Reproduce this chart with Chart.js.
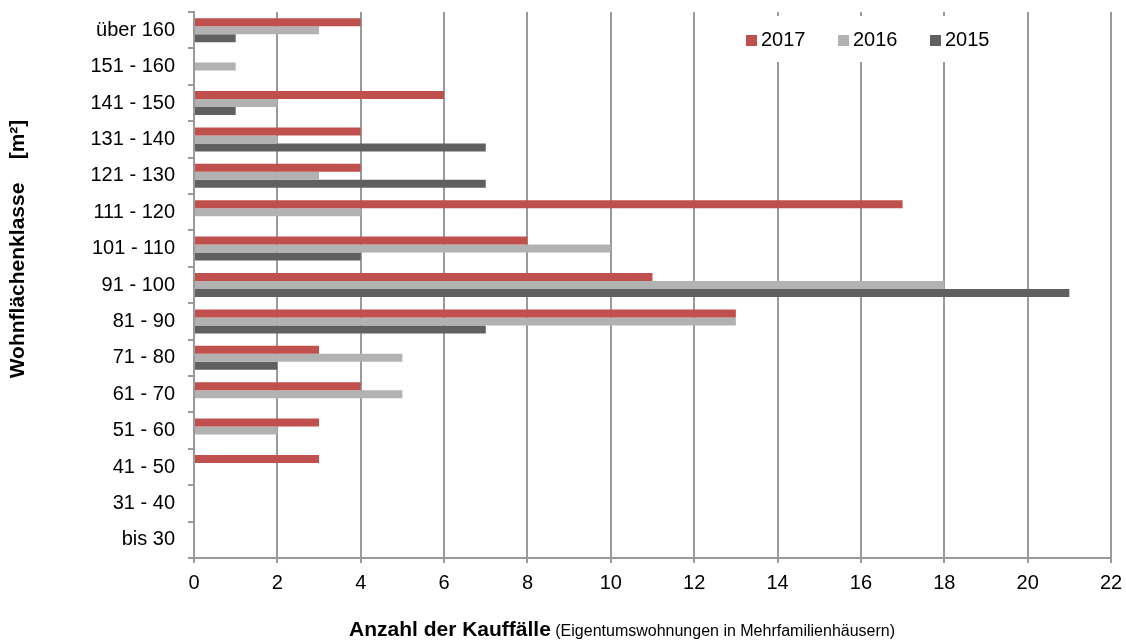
<!DOCTYPE html>
<html lang="de">
<head>
<meta charset="utf-8">
<title>Kauffälle nach Wohnflächenklasse</title>
<script src="https://cdn.jsdelivr.net/npm/chart.js@4/dist/chart.umd.min.js"></script>
<style>
  html, body { margin: 0; padding: 0; background: #fff; }
  #wrap { position: relative; width: 1126px; height: 641px; }
  canvas { display: block; }
</style>
</head>
<body>
<div id="wrap"><canvas id="chart" width="1126" height="641"></canvas></div>
<script>
// Wohnflächenklassen in m², from largest (top) to smallest (bottom)
const categories = [
  'über 160', '151 - 160', '141 - 150', '131 - 140', '121 - 130',
  '111 - 120', '101 - 110', '91 - 100', '81 - 90', '71 - 80',
  '61 - 70', '51 - 60', '41 - 50', '31 - 40', 'bis 30'
];

// Anzahl der Kauffälle je Jahr
const sales2017 = [4, 0, 6, 4, 4, 17, 8, 11, 13, 3, 4, 3, 3, 0, 0];
const sales2016 = [3, 1, 2, 2, 3, 4, 10, 18, 13, 5, 5, 2, 0, 0, 0];
const sales2015 = [1, 0, 1, 7, 7, 0, 4, 21, 7, 2, 0, 0, 0, 0, 0];

const seriesLabels = ['2017', '2016', '2015'];
const seriesColors = ['#C0504D', '#B2B2B2', '#606060'];

// Value axis range
const xMin = 0;
const xMax = 22;
const xStep = 2;

const FONT = '"Liberation Sans", Arial, Helvetica, sans-serif';
const GRID = '#9a9a9a';

// Axis titles and the legend box are drawn onto the canvas here
const decorations = {
  id: 'decorations',
  afterDatasetsDraw(chart) {
    const ctx = chart.ctx;
    ctx.save();

    // Legend inside the plot, on a white patch over the gridlines
    ctx.fillStyle = '#fff';
    ctx.fillRect(736, 16, 268, 46);
    ctx.font = '20px ' + FONT;
    ctx.textBaseline = 'middle';
    ctx.textAlign = 'left';
    const legendX = [746, 838, 930];
    chart.data.datasets.forEach((ds, i) => {
      ctx.fillStyle = ds.backgroundColor;
      ctx.fillRect(legendX[i], 35, 11, 11);
      ctx.fillStyle = '#000';
      ctx.fillText(ds.label, legendX[i] + 15, 40);
    });

    // Value axis title: bold part followed by a smaller regular part
    const boldPart = 'Anzahl der Kauffälle';
    const normalPart = ' (Eigentumswohnungen in Mehrfamilienhäusern)';
    ctx.textBaseline = 'alphabetic';
    ctx.font = 'bold 21px ' + FONT;
    const w1 = ctx.measureText(boldPart).width;
    ctx.font = '16px ' + FONT;
    const w2 = ctx.measureText(normalPart).width;
    const startX = 622 - (w1 + w2) / 2;
    ctx.fillStyle = '#000';
    ctx.font = 'bold 21px ' + FONT;
    ctx.fillText(boldPart, startX, 636);
    ctx.font = '16px ' + FONT;
    ctx.fillText(normalPart, startX + w1, 636);

    // Category axis title, rotated
    ctx.translate(18, 249);
    ctx.rotate(-Math.PI / 2);
    ctx.textAlign = 'center';
    ctx.textBaseline = 'middle';
    ctx.font = 'bold 21px ' + FONT;
    ctx.fillText('Wohnflächenklasse    [m²]', 0, 0);

    ctx.restore();
  }
};

new Chart(document.getElementById('chart'), {
  type: 'bar',
  data: {
    labels: categories,
    datasets: [
      { label: seriesLabels[0], data: sales2017, backgroundColor: seriesColors[0] },
      { label: seriesLabels[1], data: sales2016, backgroundColor: seriesColors[1] },
      { label: seriesLabels[2], data: sales2015, backgroundColor: seriesColors[2] }
    ]
  },
  options: {
    indexAxis: 'y',
    responsive: false,
    animation: false,
    devicePixelRatio: 1,
    layout: { padding: { top: 12, right: 15, left: 0, bottom: 0 } },
    datasets: {
      bar: { categoryPercentage: 0.66, barPercentage: 1.0, borderWidth: 0 }
    },
    plugins: {
      legend: { display: false },
      tooltip: { enabled: false }
    },
    scales: {
      x: {
        min: xMin,
        max: xMax,
        ticks: {
          stepSize: xStep,
          color: '#000',
          padding: 8,
          font: { family: FONT, size: 20 }
        },
        grid: {
          color: GRID,
          lineWidth: 2,
          tickLength: 5,
          drawTicks: true
        },
        border: { display: true, color: GRID, width: 2 },
        afterFit(scale) {
          scale.height = 83;
          scale.paddingLeft = 0;
          scale.paddingRight = 0;
        }
      },
      y: {
        ticks: {
          color: '#000',
          padding: 13,
          font: { family: FONT, size: 20 }
        },
        grid: {
          offset: true,
          drawOnChartArea: false,
          color: GRID,
          lineWidth: 2,
          tickLength: 6
        },
        border: { display: true, color: GRID, width: 2 },
        afterFit(scale) {
          scale.width = 194;
          scale.paddingTop = 0;
          scale.paddingBottom = 0;
        }
      }
    }
  },
  plugins: [decorations]
});
</script>
</body>
</html>
